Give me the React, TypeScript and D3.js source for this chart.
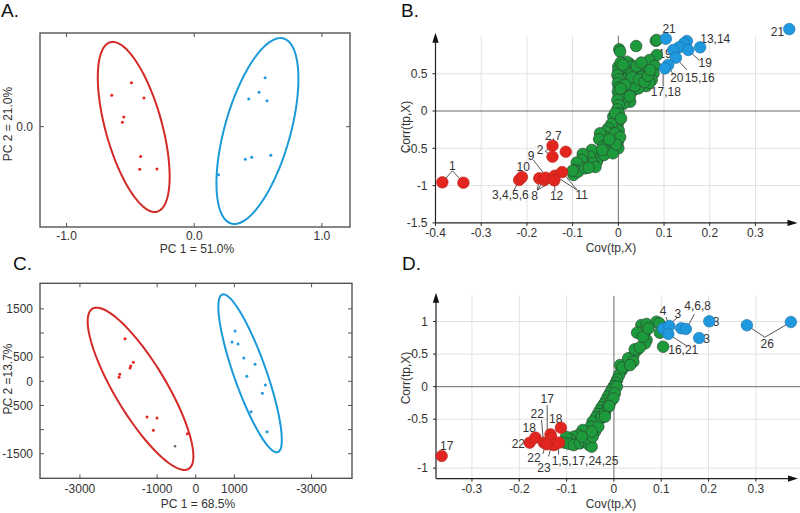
import React from 'react';
import * as d3 from 'd3';

// ---------- Panel A (PCA scores) ----------
const aXTicks = [-1, 0, 1];
const aXTickLabels = ['-1.0', '0.0', '1.0'];
const aYTicks = [0];
const aYTickLabels = ['0.0'];
const aRed: number[][] = [
  [-0.492, 0.344], [-0.646, 0.245], [-0.394, 0.224], [-0.552, 0.076], [-0.5625, 0.034],
  [-0.42, -0.234], [-0.427, -0.333], [-0.292, -0.33],
];
const aBlue: number[][] = [
  [0.555, 0.383], [0.508, 0.269], [0.427, 0.216], [0.57, 0.203], [0.45, -0.239],
  [0.4, -0.255], [0.6, -0.223], [0.19, -0.375],
];
// ellipse: centre x, centre y, semi-axis 1 (dx, dy), semi-axis 2 (dx, dy)
const aRedEllipse = [-0.474, -0.002, 0.184, -0.662, -0.213, -0.059];
const aBlueEllipse = [0.495, -0.034, -0.205, -0.723, 0.247, -0.07];

// ---------- Panel C (PCA scores) ----------
const cXTicks = [-3000, -1000, 0, 1000, 3000];
const cXTickLabels = ['-3000', '-1000', '0', '1000', '-3000'];
const cYTicks = [-1500, -1000, -500, 0, 500, 1000, 1500];
const cYTickLabels = ['-1500', '', '-500', '0', '500', '', '1500'];
const cRed: number[][] = [
  [-1832, 882], [-1617, 393], [-1684, 317], [-1702, 275], [-1969, 145], [-1987, 83],
  [-1262, -739], [-1003, -760], [-1098, -1014], [-218, -1085],
];
const cGrey: number[][] = [[-536, -1346]];
const cBlue: number[][] = [
  [1018, 1041], [940, 814], [1096, 772], [1244, 482], [1536, 352], [1321, 104],
  [1803, -77], [1725, -248], [1433, -629], [1847, -1043],
];
const cRedEllipse = [-1430, -155, 1246, -1658, -568, -273];
const cBlueEllipse = [1407, 166, 720, -1632, -396, -112];

// ---------- Panel B (S-plot) ----------
const bXTicks = [-0.4, -0.3, -0.2, -0.1, 0, 0.1, 0.2, 0.3];
const bXTickLabels = ['-0.4', '-0.3', '-0.2', '-0.1', '0', '0.1', '0.2', '0.3'];
const bYTicks = [0.5, 0, -0.5, -1, -1.5];
const bYTickLabels = ['0.5', '0', '-0.5', '-1', '-1.5'];
const bGreen: number[][] = [
  [0.002, 0.826], [0.004, 0.795], [0.039, 0.871], [0.082, 0.942], [0.084, 0.75], [0.068, 0.683],
  [0.08, 0.603], [0.077, 0.504], [0.062, 0.451], [0.055, 0.549], [0.042, 0.527], [0.033, 0.549],
  [0.024, 0.638], [0.018, 0.661], [0.027, 0.594], [0.036, 0.415], [0.047, 0.379], [0.061, 0.335],
  [0.073, 0.415], [0.026, 0.348], [0.018, 0.281], [0.033, 0.281], [0.044, 0.304], [0.02, 0.17],
  [0.026, 0.125], [0.011, 0.094], [0.012, 0.415], [0.015, 0.482], [0.009, 0.571], [0.018, 0.527],
  [0.022, 0.451], [0.029, 0.496], [0.051, 0.46], [0.068, 0.379], [0.036, 0.335], [0.012, 0.228],
  [0.007, 0.17], [0.0, 0.594], [0.0, 0.54], [-0.002, 0.482], [0.001, 0.424], [-0.001, 0.371],
  [0.001, 0.317], [-0.001, 0.259], [0.001, 0.201], [-0.002, 0.147], [0.001, 0.08], [-0.002, 0.022],
  [0.001, -0.031], [-0.004, -0.085], [0.0, -0.143], [-0.002, -0.201], [0.001, -0.263], [-0.002, -0.321],
  [0.0, -0.388], [-0.002, -0.442], [0.0, -0.5], [-0.011, -0.076], [-0.007, -0.031], [-0.015, -0.174],
  [-0.022, -0.232], [-0.018, -0.299], [-0.027, -0.277], [-0.031, -0.344], [-0.04, -0.299], [-0.042, -0.379],
  [-0.033, -0.469], [-0.022, -0.433], [-0.015, -0.478], [-0.026, -0.545], [-0.04, -0.567], [-0.044, -0.634],
  [-0.047, -0.679], [-0.058, -0.522], [-0.062, -0.612], [-0.069, -0.701], [-0.078, -0.576], [-0.08, -0.656],
  [-0.084, -0.746], [-0.091, -0.692], [-0.095, -0.79], [-0.098, -0.857], [-0.088, -0.813], [-0.073, -0.768],
  [-0.055, -0.701], [-0.031, -0.589], [-0.011, -0.388], [-0.007, -0.299], [-0.012, -0.567], [0.084, 0.952],
  [0.005, 0.65], [0.01, 0.62], [0.03, 0.45], [0.045, 0.42], [0.057, 0.39], [0.065, 0.47],
  [0.07, 0.55], [0.04, 0.6], [0.05, 0.65], [0.015, 0.35], [0.025, 0.2], [0.005, 0.3],
  [0.006, -0.1], [0.004, -0.35], [-0.005, -0.45], [-0.05, -0.75], [-0.065, -0.76], [-0.1, -0.8],
  [-0.035, -0.52], [-0.02, -0.38],
];
const bRed: number[][] = [
  [-0.385, -0.956], [-0.339, -0.961], [-0.217, -0.925], [-0.211, -0.885], [-0.144, -0.465], [-0.144, -0.613],
  [-0.115, -0.546], [-0.173, -0.902], [-0.162, -0.925], [-0.159, -0.894], [-0.139, -0.867], [-0.14, -0.929],
  [-0.123, -0.818],
];
const bBlue: number[][] = [
  [0.104, 0.969], [0.15, 0.938], [0.144, 0.907], [0.133, 0.854], [0.12, 0.818], [0.153, 0.818],
  [0.179, 0.854], [0.126, 0.715], [0.109, 0.617], [0.102, 0.572], [0.374, 1.099],
];
// annotation labels: text, x, y (data units, text centre / baseline)
const bLabels: [string, number, number][] = [
  ['1', -0.363, -0.791], ['10', -0.208, -0.798], ['3,4,5,6', -0.236, -1.18], ['2,7', -0.142, -0.389],
  ['2', -0.171, -0.579], ['9', -0.191, -0.657], ['8', -0.183, -1.193], ['12', -0.135, -1.193],
  ['11', -0.08, -1.18], ['21', 0.111, 1.046], ['13,14', 0.212, 0.908], ['19', 0.102, 0.706],
  ['19', 0.19, 0.59], ['20', 0.128, 0.385], ['15,16', 0.178, 0.39], ['17,18', 0.104, 0.195],
  ['21', 0.348, 1.005],
];
const bLeaders: number[][][] = [
  [[-0.385, -0.956], [-0.363, -0.8], [-0.339, -0.961]],
  [[-0.144, -0.465], [-0.16, -0.54], [-0.144, -0.613]],
  [[-0.186, -0.657], [-0.16, -0.86]],
  [[-0.173, -0.902], [-0.177, -1.06], [-0.159, -0.894]],
  [[-0.177, -1.06], [-0.14, -0.929]],
  [[-0.139, -1.072], [-0.139, -0.94]],
  [[-0.123, -0.818], [-0.09, -1.06], [-0.139, -0.867]],
  [[-0.228, -1.06], [-0.217, -0.925]],
  [[0.153, 0.818], [0.177, 0.68]],
  [[0.108, 0.617], [0.12, 0.49]],
  [[0.126, 0.715], [0.15, 0.55]],
  [[0.098, 0.55], [0.098, 0.33]],
];

// ---------- Panel D (S-plot) ----------
const dXTicks = [-0.3, -0.2, -0.1, 0, 0.1, 0.2, 0.3];
const dXTickLabels = ['-0.3', '-0.2', '-0.1', '0', '0.1', '0.2', '0.3'];
const dYTicks = [1, 0.5, 0, -0.5, -1.25];
const dYTickLabels = ['1', '0.5', '0', '-0.5', '-1'];
const dGreen: number[][] = [
  [0.058, 0.946], [0.069, 0.961], [0.09, 0.997], [0.096, 0.971], [0.066, 0.844], [0.049, 0.828],
  [0.069, 0.716], [0.066, 0.665], [0.097, 0.828], [0.104, 0.613], [0.049, 0.562], [0.041, 0.47],
  [0.034, 0.409], [0.028, 0.348], [0.023, 0.307], [0.016, 0.245], [0.011, 0.179], [0.007, 0.112],
  [0.004, 0.061], [0.0, 0.01], [-0.004, -0.041], [-0.008, -0.092], [-0.013, -0.153], [-0.017, -0.215],
  [-0.021, -0.266], [-0.026, -0.317], [-0.03, -0.368], [-0.034, -0.419], [-0.038, -0.47], [-0.031, -0.511],
  [-0.037, -0.573], [-0.045, -0.537], [-0.049, -0.613], [-0.04, -0.69], [-0.058, -0.69], [-0.066, -0.665],
  [-0.075, -0.741], [-0.085, -0.767], [-0.093, -0.808], [-0.101, -0.767], [-0.104, -0.859], [-0.094, -0.879],
  [-0.085, -0.895], [-0.072, -0.869], [-0.061, -0.844], [-0.052, -0.895], [-0.047, -0.92], [-0.058, -0.792],
  [-0.045, -0.767], [-0.033, -0.613], [-0.026, -0.46], [-0.019, -0.399], [-0.012, -0.307], [-0.007, -0.23],
  [0.013, 0.332], [0.018, 0.297], [0.03, 0.435], [0.044, 0.573], [0.055, 0.603], [0.061, 0.767],
  [0.073, 0.895], [0.041, 0.383], [0.034, 0.332], [0.006, 0.0], [0.002, -0.102], [-0.001, -0.179],
  [-0.01, -0.297], [-0.019, -0.46], [-0.047, -0.69], [-0.068, -0.767],
];
const dRed: number[][] = [
  [-0.364, -1.063], [-0.178, -0.859], [-0.166, -0.782], [-0.148, -0.859], [-0.134, -0.731],
  [-0.132, -0.792], [-0.127, -0.895], [-0.116, -0.859], [-0.112, -0.629], [-0.142, -0.884],
];
const dBlue: number[][] = [
  [0.104, 0.89], [0.117, 0.931], [0.115, 0.808], [0.142, 0.896], [0.152, 0.885],
  [0.2015, 1.003], [0.18, 0.747], [0.281, 0.942], [0.374, 0.992],
];
const dLabels: [string, number, number][] = [
  ['4', 0.104, 1.1], ['3', 0.135, 1.049], ['4,6,8', 0.177, 1.176], ['3', 0.216, 0.931],
  ['3', 0.196, 0.675], ['16,21', 0.1465, 0.502], ['26', 0.324, 0.589], ['17', -0.3535, -0.971],
  ['17', -0.141, -0.255], ['22', -0.162, -0.485], ['18', -0.123, -0.561], ['18', -0.179, -0.69],
  ['22', -0.202, -0.94], ['22', -0.169, -1.15], ['23', -0.148, -1.308], ['1,5,17,24,25', -0.061, -1.201],
];
const dLeaders: number[][][] = [
  [[-0.141, -0.282], [-0.141, -0.82]],
  [[-0.153, -0.511], [-0.149, -0.844]],
  [[0.11, 1.07], [0.117, 0.931]],
  [[0.133, 1.05], [0.108, 0.911]],
  [[0.17, 1.115], [0.155, 0.911]],
  [[0.115, 0.808], [0.154, 0.624]],
  [[0.281, 0.942], [0.319, 0.758], [0.374, 0.992]],
  [[-0.146, -0.92], [-0.15, -1.03]],
  [[-0.133, -0.93], [-0.138, -1.07]],
  [[-0.117, -0.9], [-0.117, -1.04]],
];

const FONT = '"Liberation Sans", Arial, Helvetica, sans-serif';
const RED = '#e2261f';
const BLUE = '#1f98dd';
const GREEN = '#1c9a3c';
const TXT = '#333';

type Scale = d3.ScaleLinear<number, number>;

function ellipsePath(e: number[], x: Scale, y: Scale) {
  const [cx, cy, ux, uy, vx, vy] = e;
  const pts: [number, number][] = d3.range(0, 97).map((i) => {
    const t = (i / 96) * 2 * Math.PI;
    return [x(cx + ux * Math.cos(t) + vx * Math.sin(t)), y(cy + uy * Math.cos(t) + vy * Math.sin(t))];
  });
  return (d3.line()(pts) || '') + 'Z';
}

function PcaPanel(p: {
  x: Scale; y: Scale; xTicks: number[]; xTickLabels: string[]; yTicks: number[]; yTickLabels: string[];
  red: number[][]; blue: number[][]; grey?: number[][]; redE: number[]; blueE: number[];
  xTitle: string; yTitle: string; xLabelBase: number; xTitleBase: number; yTitleCenter: number;
}) {
  const { x, y } = p;
  const [x0, x1] = x.range();
  const [yb, yt] = y.range();
  return (
    <g fontFamily={FONT}>
      <path d={ellipsePath(p.redE, x, y)} fill="none" stroke="#d42a27" strokeWidth={2} />
      <path d={ellipsePath(p.blueE, x, y)} fill="none" stroke="#1a9ad8" strokeWidth={2} />
      {p.red.map((d, i) => <circle key={'r' + i} cx={x(d[0])} cy={y(d[1])} r={1.5} fill={RED} />)}
      {p.blue.map((d, i) => <circle key={'b' + i} cx={x(d[0])} cy={y(d[1])} r={1.5} fill={BLUE} />)}
      {(p.grey || []).map((d, i) => <circle key={'g' + i} cx={x(d[0])} cy={y(d[1])} r={1.3} fill="#666" />)}
      <rect x={x0} y={yt} width={x1 - x0} height={yb - yt} fill="none" stroke="#555" strokeWidth={1.4} />
      {p.xTicks.map((t, i) => (
        <g key={'xt' + i}>
          <line x1={x(t)} x2={x(t)} y1={yb} y2={yb - 4} stroke="#555" />
          <line x1={x(t)} x2={x(t)} y1={yt} y2={yt + 4} stroke="#555" />
          <text x={x(t)} y={p.xLabelBase} textAnchor="middle" fontSize={12} fill={TXT}>{p.xTickLabels[i]}</text>
        </g>
      ))}
      {p.yTicks.map((t, i) => (
        <g key={'yt' + i}>
          <line x1={x0} x2={x0 + 4} y1={y(t)} y2={y(t)} stroke="#555" />
          <line x1={x1} x2={x1 - 4} y1={y(t)} y2={y(t)} stroke="#555" />
          <text x={x0 - 7} y={y(t)} dy="0.35em" textAnchor="end" fontSize={12} fill={TXT}>{p.yTickLabels[i]}</text>
        </g>
      ))}
      <text x={(x0 + x1) / 2 + 2} y={p.xTitleBase} textAnchor="middle" fontSize={12} fill={TXT}>{p.xTitle}</text>
      <text transform={`translate(12,${p.yTitleCenter}) rotate(-90)`} textAnchor="middle" fontSize={12} fill={TXT}>{p.yTitle}</text>
    </g>
  );
}

function SPanel(p: {
  x: Scale; y: Scale; xTicks: number[]; xTickLabels: string[]; yTicks: number[]; yTickLabels: string[];
  green: number[][]; red: number[][]; blue: number[][]; labels: [string, number, number][]; leaders: number[][][];
  xLabelBase: number; xTitleBase: number; yTitleCenter: number;
}) {
  const { x, y } = p;
  const [x0, x1] = x.range();
  const [yb, yt] = y.range();
  const line = d3.line<number[]>().x((d) => x(d[0])).y((d) => y(d[1]));
  const R = 5.8;
  return (
    <g fontFamily={FONT}>
      {p.xTicks.filter((t) => t !== 0 && x(t) > x0 + 2).map((t, i) => (
        <line key={'gx' + i} x1={x(t)} x2={x(t)} y1={yt + 3} y2={yb} stroke="#e2e2e2" strokeWidth={1} />
      ))}
      {p.yTicks.filter((t) => t !== 0 && y(t) < yb - 2).map((t, i) => (
        <line key={'gy' + i} x1={x0} x2={800} y1={y(t)} y2={y(t)} stroke="#e2e2e2" strokeWidth={1} />
      ))}
      <line x1={x(0)} x2={x(0)} y1={yt + 3} y2={yb} stroke="#6a6a6a" strokeWidth={1} />
      <line x1={x0} x2={800} y1={y(0)} y2={y(0)} stroke="#6a6a6a" strokeWidth={1} />
      <line x1={x0} x2={x0} y1={yb} y2={yt + 6} stroke="#222" strokeWidth={1.2} />
      <line x1={x0} x2={x1 - 6} y1={yb} y2={yb} stroke="#222" strokeWidth={1.2} />
      <path d={`M${x0},${yt} L${x0 - 3.2},${yt + 10} L${x0 + 3.2},${yt + 10} Z`} fill="#111" />
      <path d={`M${x1},${yb} L${x1 - 10},${yb - 3.2} L${x1 - 10},${yb + 3.2} Z`} fill="#111" />
      {p.xTicks.map((t, i) => (
        <g key={'xt' + i}>
          <line x1={x(t)} x2={x(t)} y1={yb} y2={yb + 3} stroke="#222" />
          <text x={x(t)} y={p.xLabelBase} textAnchor="middle" fontSize={12} fill={TXT}>{p.xTickLabels[i]}</text>
        </g>
      ))}
      {p.yTicks.map((t, i) => (
        <g key={'yt' + i}>
          <line x1={x0 - 3} x2={x0} y1={y(t)} y2={y(t)} stroke="#222" />
          <text x={x0 - 8} y={y(t)} dy="0.35em" textAnchor="end" fontSize={12} fill={TXT}>{p.yTickLabels[i]}</text>
        </g>
      ))}
      <text x={611} y={p.xTitleBase} textAnchor="middle" fontSize={12} fill={TXT}>Cov(tp,X)</text>
      <text transform={`translate(410,${p.yTitleCenter}) rotate(-90)`} textAnchor="middle" fontSize={12} fill={TXT}>Corr(tp,X)</text>
      {p.leaders.map((l, i) => (
        <path key={'ld' + i} d={line(l) || ''} fill="none" stroke="#444" strokeWidth={0.9} />
      ))}
      {p.labels.map((l, i) => (
        <text key={'lb' + i} x={x(l[1])} y={y(l[2])} textAnchor="middle" fontSize={12} fill={TXT}>{l[0]}</text>
      ))}
      {p.green.map((d, i) => (
        <circle key={'g' + i} cx={x(d[0])} cy={y(d[1])} r={R} fill={GREEN} stroke="#2e4a33" strokeWidth={0.7} />
      ))}
      {p.red.map((d, i) => (
        <circle key={'r' + i} cx={x(d[0])} cy={y(d[1])} r={R} fill={RED} stroke="#b3241d" strokeWidth={0.6} />
      ))}
      {p.blue.map((d, i) => (
        <circle key={'b' + i} cx={x(d[0])} cy={y(d[1])} r={R} fill={BLUE} stroke="#1d6fa3" strokeWidth={0.6} />
      ))}
    </g>
  );
}

export default function App() {
  const ax = d3.scaleLinear().domain([-1.208, 1.22]).range([40, 350]);
  const ay = d3.scaleLinear().domain([-0.784, 0.732]).range([227, 33]);
  const cx = d3.scaleLinear().domain([-4034, 4047]).range([40, 352]);
  const cy = d3.scaleLinear().domain([-2008, 2029]).range([478.3, 283.3]);
  const bx = d3.scaleLinear().domain([-0.4, 0.392]).range([435.5, 797.5]);
  const by = d3.scaleLinear().domain([-1.5, 1.05]).range([222.9, 32.7]);
  const dx = d3.scaleLinear().domain([-0.376, 0.389]).range([436, 798]);
  const dy = d3.scaleLinear().domain([-1.41, 1.44]).range([478.6, 292.8]);

  return (
    <svg width={800} height={513} style={{ position: 'absolute', left: 0, top: 0, background: '#fff' }}>
      <rect width={800} height={513} fill="#fff" />
      <g fontFamily={FONT} fontSize={19} fill="#111">
        <text x={1} y={17}>A.</text>
        <text x={401} y={17}>B.</text>
        <text x={13} y={270}>C.</text>
        <text x={402} y={270}>D.</text>
      </g>
      <PcaPanel x={ax} y={ay} xTicks={aXTicks} xTickLabels={aXTickLabels} yTicks={aYTicks} yTickLabels={aYTickLabels}
        red={aRed} blue={aBlue} redE={aRedEllipse} blueE={aBlueEllipse}
        xTitle="PC 1 = 51.0%" yTitle="PC 2 = 21.0%" xLabelBase={240} xTitleBase={253} yTitleCenter={124} />
      <PcaPanel x={cx} y={cy} xTicks={cXTicks} xTickLabels={cXTickLabels} yTicks={cYTicks} yTickLabels={cYTickLabels}
        red={cRed} blue={cBlue} grey={cGrey} redE={cRedEllipse} blueE={cBlueEllipse}
        xTitle="PC 1 = 68.5%" yTitle="PC 2 =13.7%" xLabelBase={493} xTitleBase={508} yTitleCenter={379} />
      <SPanel x={bx} y={by} xTicks={bXTicks} xTickLabels={bXTickLabels} yTicks={bYTicks} yTickLabels={bYTickLabels}
        green={bGreen} red={bRed} blue={bBlue} labels={bLabels} leaders={bLeaders}
        xLabelBase={237} xTitleBase={252} yTitleCenter={127} />
      <SPanel x={dx} y={dy} xTicks={dXTicks} xTickLabels={dXTickLabels} yTicks={dYTicks} yTickLabels={dYTickLabels}
        green={dGreen} red={dRed} blue={dBlue} labels={dLabels} leaders={dLeaders}
        xLabelBase={493} xTitleBase={508} yTitleCenter={378} />
    </svg>
  );
}
